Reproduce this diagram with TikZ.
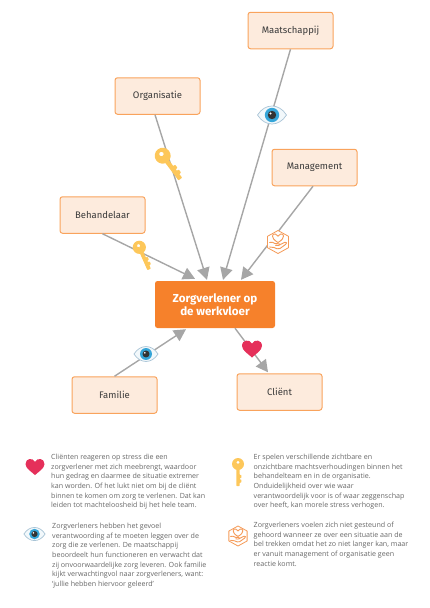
\documentclass[tikz,border=0pt]{standalone}
\usepackage{fontspec}
\setmainfont{Open Sans}
\newfontfamily\boxfont{Fira Sans}
\usetikzlibrary{arrows.meta}
\definecolor{boxfill}{HTML}{FDEBDD}
\definecolor{boxline}{HTML}{F9A35C}
\definecolor{coreorange}{HTML}{F6812B}
\definecolor{linkgrey}{HTML}{A6A6A6}
\definecolor{bodygrey}{HTML}{666666}
\definecolor{labelgrey}{HTML}{3A3A3A}
\definecolor{keygold}{HTML}{FDC75A}
\definecolor{heartred}{HTML}{E5305A}
\definecolor{eyeblue}{HTML}{35A5D8}
\definecolor{eyerim}{HTML}{A9C4D6}
\definecolor{eyewhite}{HTML}{F2F8FB}
\definecolor{hexorange}{HTML}{F59A57}
\tikzset{
  x=1pt,y=-1pt,
  actor/.style={draw=boxline,fill=boxfill,line width=1pt,rounded corners=2.5pt,
    minimum width=85pt,minimum height=36.5pt,inner sep=0pt,text=labelgrey,
    font=\boxfont\fontsize{9.5}{11}\selectfont},
  core/.style={fill=coreorange,rounded corners=2.5pt,minimum width=120pt,minimum height=47pt,
    inner sep=0pt,text=white,align=center,
    font=\boxfont\fontsize{11.6}{13.3}\selectfont\bfseries},
  link/.style={draw=linkgrey,line width=1.4pt,-{Triangle[length=12pt,width=12.5pt]}},
  legend/.style={anchor=north west,inner sep=0pt,align=left,text=bodygrey,
    font=\fontsize{7.1}{9.6}\selectfont},
  pics/keyicon/.style={code={
    \fill[keygold,rounded corners=.6pt] (-1.7,3) -- (1.7,3) -- (1.7,11) -- (3.4,11) -- (3.4,14) -- (1.7,14)
      -- (1.7,15.5) -- (3.4,15.5) -- (3.4,18.5) -- (1.7,18.5) -- (1.7,22) -- (-1.7,22) -- cycle;
    \fill[keygold,even odd rule] (0,0) circle (6) (0,-1.6) circle (1.7);
  }},
  pics/eyeicon/.style={code={
    \draw[eyerim,fill=eyewhite,line width=.7pt] (-14.5,0) .. controls (-7,-12) and (7,-12) .. (14.5,0)
      .. controls (7,12) and (-7,12) .. (-14.5,0) -- cycle;
    \fill[eyeblue] (0,0) circle (7.2);
    \fill[black!80] (0,0) circle (4.2);
    \fill[white] (-1.5,-1.5) circle (1.2);
  }},
  pics/hearticon/.style={code={
    \fill[heartred] (0,8.5) .. controls (-3,5.5) and (-10,1.5) .. (-10,-3)
      .. controls (-10,-9.5) and (-2.5,-10) .. (0,-5.5)
      .. controls (2.5,-10) and (10,-9.5) .. (10,-3)
      .. controls (10,1.5) and (3,5.5) .. (0,8.5) -- cycle;
  }},
  pics/careicon/.style={code={
    \draw[hexorange,line width=.8pt,fill=white,line join=round]
      (0,-11.5) -- (10.5,-5.7) -- (10.5,5.7) -- (0,11.5) -- (-10.5,5.7) -- (-10.5,-5.7) -- cycle;
    \draw[hexorange,line width=.9pt,line join=round,line cap=round]
      (0,.5) .. controls (-8,-4) and (-6,-9) .. (-2.5,-8) .. controls (-1.2,-7.6) and (-.3,-7) .. (0,-5.8)
      .. controls (.3,-7) and (1.2,-7.6) .. (2.5,-8) .. controls (6,-9) and (8,-4) .. (0,.5);
    \draw[hexorange,line width=.9pt,line join=round,line cap=round]
      (-8.5,.5) .. controls (-6,-.5) and (-5,.5) .. (-3,1.5) -- (1,1.8) .. controls (3,2.2) and (2,3.8) .. (0,3.5) -- (-2.5,3.3)
      (2.2,2.5) -- (7,.2) .. controls (9,-.3) and (9,1.5) .. (7.5,2.5) -- (2,6.5) .. controls (0,7.5) and (-2,6.5) .. (-4,5.5) -- (-8.5,5);
  }},
}
\begin{document}
\begin{tikzpicture}
\useasboundingbox (0,0) rectangle (430,608);
\node[actor] (maat) at (290.5,30.5) {Maatschappij};
\node[actor] (org)  at (157.5,96)   {Organisatie};
\node[actor] (man)  at (314.5,167.5){Management};
\node[actor] (beh)  at (102.5,215)  {Behandelaar};
\node[actor] (fam)  at (114.5,395)  {Familie};
\node[actor] (cli)  at (279.5,392)  {Cliënt};
\node[core]  (zorg) at (215,304.5)  {Zorgverlener op\\de werkvloer};

\draw[link] (beh.south) -- ([xshift=-20pt,yshift=2pt]zorg.north);
\draw[link] ([xshift=-2.5pt]org.south) -- ([xshift=-8pt,yshift=1pt]zorg.north);
\draw[link] (maat.south) -- ([xshift=8pt,yshift=1pt]zorg.north);
\draw[link] ([xshift=-1.5pt]man.south) -- ([xshift=26pt,yshift=1pt]zorg.north);
\draw[link] (fam.north) -- ([xshift=-29pt,yshift=-1pt]zorg.south);
\draw[link] ([xshift=20pt]zorg.south) -- ([xshift=-11.5pt,yshift=1pt]cli.north);

\pic[rotate=37,scale=1.33] at (162.7,155.7) {keyicon};
\pic[rotate=24,scale=1.1] at (139.3,247.3) {keyicon};
\pic at (272,115) {eyeicon};
\pic[scale=.83] at (146,354) {eyeicon};
\pic at (252,349) {hearticon};
\pic at (278,242) {careicon};

\pic[scale=.95] at (35,467) {hearticon};
\pic at (238,464) {keyicon};
\pic[scale=.73] at (34.5,534) {eyeicon};
\pic[scale=.87] at (238,536) {careicon};

\node[legend] (t1) at (51,454) {Cliënten reageren op stress die een\\zorgverlener met zich meebrengt, waardoor\\hun gedrag en daarmee de situatie extremer\\kan worden. Of het lukt niet om bij de cliënt\\binnen te komen om zorg te verlenen. Dat kan\\leiden tot machteloosheid bij het hele team.};
\node[legend] (t2) at (52,523) {Zorgverleners hebben het gevoel\\verantwoording af te moeten leggen over de\\zorg die ze verlenen. De maatschappij\\beoordeelt hun functioneren en verwacht dat\\zij onvoorwaardelijke zorg leveren. Ook familie\\kijkt verwachtingvol naar zorgverleners, want:\\‘jullie hebben hiervoor geleerd’};
\node[legend] (t3) at (253.5,454) {Er spelen verschillende zichtbare en\\onzichtbare machtsverhoudingen binnen het\\behandelteam en in de organisatie.\\Onduidelijkheid over wie waar\\verantwoordelijk voor is of waar zeggenschap\\over heeft, kan morele stress verhogen.};
\node[legend] (t4) at (253.5,522) {Zorgverleners voelen zich niet gesteund of\\gehoord wanneer ze over een situatie aan de\\bel trekken omdat het zo niet langer kan, maar\\er vanuit management of organisatie geen\\reactie komt.};
\end{tikzpicture}
\end{document}
